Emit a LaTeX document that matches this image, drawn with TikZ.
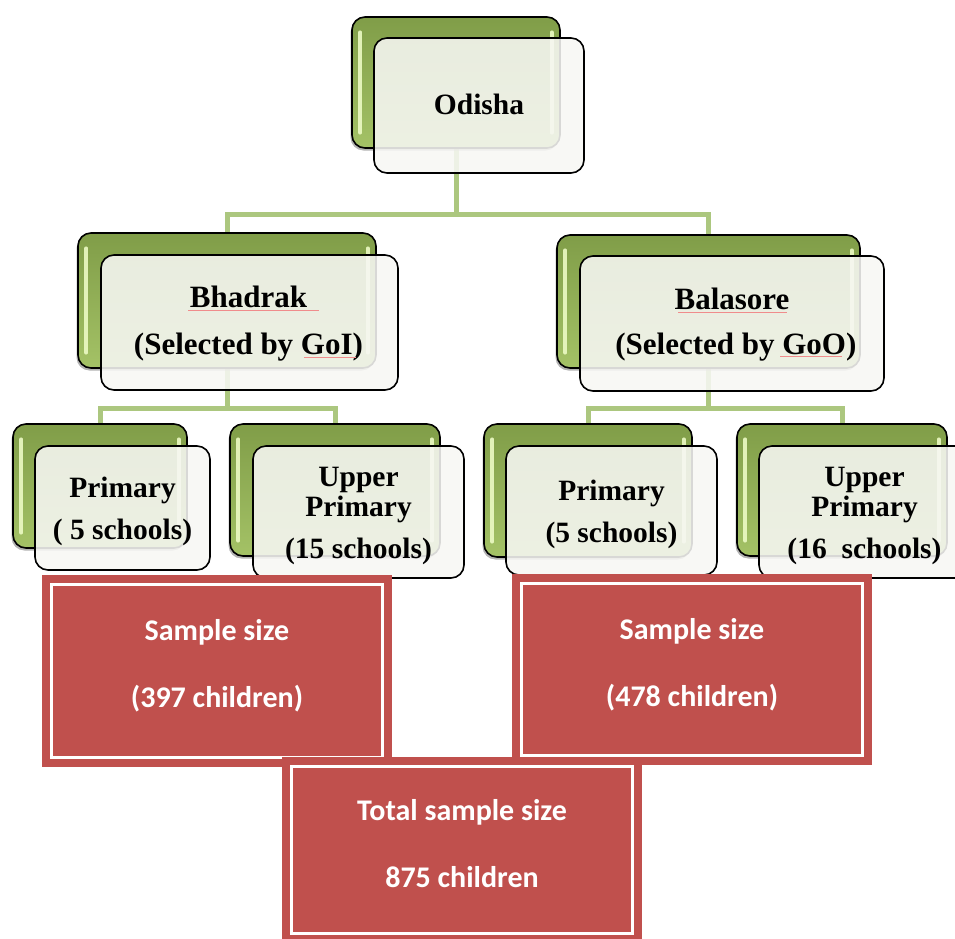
\documentclass[tikz,border=0pt]{standalone}
\usepackage{fontspec}
\setmainfont{Liberation Serif}
\newfontfamily\carlito{Carlito}
\usetikzlibrary{shadows}
\definecolor{gtop}{RGB}{128,157,72}
\definecolor{gbot}{RGB}{164,194,102}
\definecolor{conncol}{RGB}{172,199,127}
\definecolor{redc}{RGB}{192,80,77}
\definecolor{wbox}{RGB}{247,247,244}
\definecolor{hilite}{RGB}{236,250,196}
\definecolor{spell}{RGB}{240,140,140}
\tikzset{
  greenbox/.style={draw=black, line width=1.6pt, rounded corners=13pt, top color=gtop, bottom color=gbot,
    drop shadow={shadow xshift=-1.5pt, shadow yshift=-2.5pt, opacity=0.6}},
  hl/.style={draw=hilite, line width=3.5pt, line cap=round, opacity=0.9},
  whitebox/.style={draw=black, line width=1.6pt, rounded corners=13pt, fill=wbox, fill opacity=0.88,
    inner sep=0pt},
  sertxt/.style 2 args={align=center, inner sep=0pt, font=\bfseries\fontsize{#1}{#2}\selectfont},
  conn/.style={draw=conncol, line width=5pt},
  redbox/.style={fill=redc, inner sep=0pt},
  redtxt/.style={align=center, inner sep=0pt, text=white,
    font=\carlito\bfseries\fontsize{30}{67}\selectfont},
  inline/.style={draw=white, line width=3pt},
  spellline/.style={draw=spell, line width=0.8pt}
}
\begin{document}
\begin{tikzpicture}[x=1pt,y=-1pt]
\useasboundingbox (0,0) rectangle (955,938);
% junction levels
\coordinate (j0) at (0,214);
\coordinate (j1) at (0,408);
% green back box positions
\coordinate (pgo) at (456,82.5);
\coordinate (pgb) at (227,300.5);
\coordinate (pga) at (708.5,301.5);
\coordinate (pgp1) at (100,486);
\coordinate (pgu1) at (335,490);
\coordinate (pgp2) at (588,490.5);
\coordinate (pgu2) at (842,490);
% connectors (behind)
\draw[conn] (pgo) -- (pgo |- j0) -| (pgb);
\draw[conn] (pgo |- j0) -| (pga);
\draw[conn] (pgb) -- (pgb |- j1) -| (pgp1);
\draw[conn] (pgb |- j1) -| (pgu1);
\draw[conn] (pga) -- (pga |- j1) -| (pgp2);
\draw[conn] (pga |- j1) -| (pgu2);
% green boxes
\node[greenbox, minimum width=208pt, minimum height=131pt] (go) at (pgo) {};
\node[greenbox, minimum width=298pt, minimum height=135pt] (gb) at (pgb) {};
\node[greenbox, minimum width=303pt, minimum height=133pt] (ga) at (pga) {};
\node[greenbox, minimum width=174pt, minimum height=124pt] (gp1) at (pgp1) {};
\node[greenbox, minimum width=210pt, minimum height=132pt] (gu1) at (pgu1) {};
\node[greenbox, minimum width=208pt, minimum height=133pt] (gp2) at (pgp2) {};
\node[greenbox, minimum width=210pt, minimum height=132pt] (gu2) at (pgu2) {};
\foreach \g in {go,gb,ga,gp1,gu1,gp2,gu2}{
  \draw[hl] ([shift={(9pt,-16pt)}]\g.north west) -- ([shift={(9pt,16pt)}]\g.south west);
  \draw[hl] ([shift={(-9pt,-16pt)}]\g.north east) -- ([shift={(-9pt,16pt)}]\g.south east);
}
% white front boxes
\node[whitebox, minimum width=210pt, minimum height=135pt] (wo) at (479,105.5) {};
\node[whitebox, minimum width=297pt, minimum height=135pt] (wb) at (249.5,322.5) {};
\node[whitebox, minimum width=304pt, minimum height=135pt] (wa) at (732,323.5) {};
\node[whitebox, minimum width=175pt, minimum height=124pt] (wp1) at (122.5,508) {};
\node[whitebox, minimum width=211pt, minimum height=132pt] (wu1) at (358.5,512) {};
\node[whitebox, minimum width=211pt, minimum height=129pt] (wp2) at (611.5,510.5) {};
\node[whitebox, minimum width=211pt, minimum height=132pt] (wu2) at (864.5,512) {};
% texts of the white boxes
\node[sertxt={29.5}{30}] (to) at ([yshift=1pt]wo.center) {Odisha};
\node[sertxt={31}{47}] (tb) at ([shift={(-1pt,-1pt)}]wb.center) {Bhadrak\\(Selected by GoI)};
\node[sertxt={31}{45}] (ta) at ([yshift=-1.5pt]wa.center) {Balasore\\\ (Selected by GoO)};
\node[sertxt={29.5}{42}] (tp1) at ([yshift=-3pt]wp1.center) {Primary\\( 5 schools)};
\node[sertxt={29.5}{30}] (tu1) at ([yshift=-4pt]wu1.center) {Upper\\Primary\\[12pt](15 schools)};
\node[sertxt={29.5}{42}] (tp2) at ([yshift=-4pt]wp2.center) {Primary\\(5 schools)};
\node[sertxt={29.5}{30}] (tu2) at ([yshift=-4pt]wu2.center) {Upper\\Primary\\[12pt](16\ \ schools)};
% spell-check underlines
\draw[spellline] (188,310) -- (319,310);
\draw[spellline] (304,357) -- (356,357);
\draw[spellline] (678,312) -- (787,312);
\draw[spellline] (780,356) -- (842,356);
% red sample boxes
\node[redbox, minimum width=350pt, minimum height=192pt] (s1) at (217,671) {};
\draw[inline] ([shift={(10pt,-10pt)}]s1.north west) rectangle ([shift={(-10pt,10pt)}]s1.south east);
\node[redtxt] (s1t) at ([yshift=5pt]s1.center) {Sample size\\(397 children)};
\node[redbox, minimum width=360pt, minimum height=191pt] (s2) at (692,669.5) {};
\draw[inline] ([shift={(10pt,-10pt)}]s2.north west) rectangle ([shift={(-10pt,10pt)}]s2.south east);
\node[redtxt] (s2t) at ([yshift=5pt]s2.center) {Sample size\\(478 children)};
\node[redbox, minimum width=360pt, minimum height=186pt] (tot) at (462,850) {};
\draw[inline] ([shift={(10pt,-10pt)}]tot.north west) rectangle ([shift={(-10pt,10pt)}]tot.south east);
\node[redtxt] (tott) at ([yshift=6pt]tot.center) {Total sample size\\875 children};
\end{tikzpicture}
\end{document}
